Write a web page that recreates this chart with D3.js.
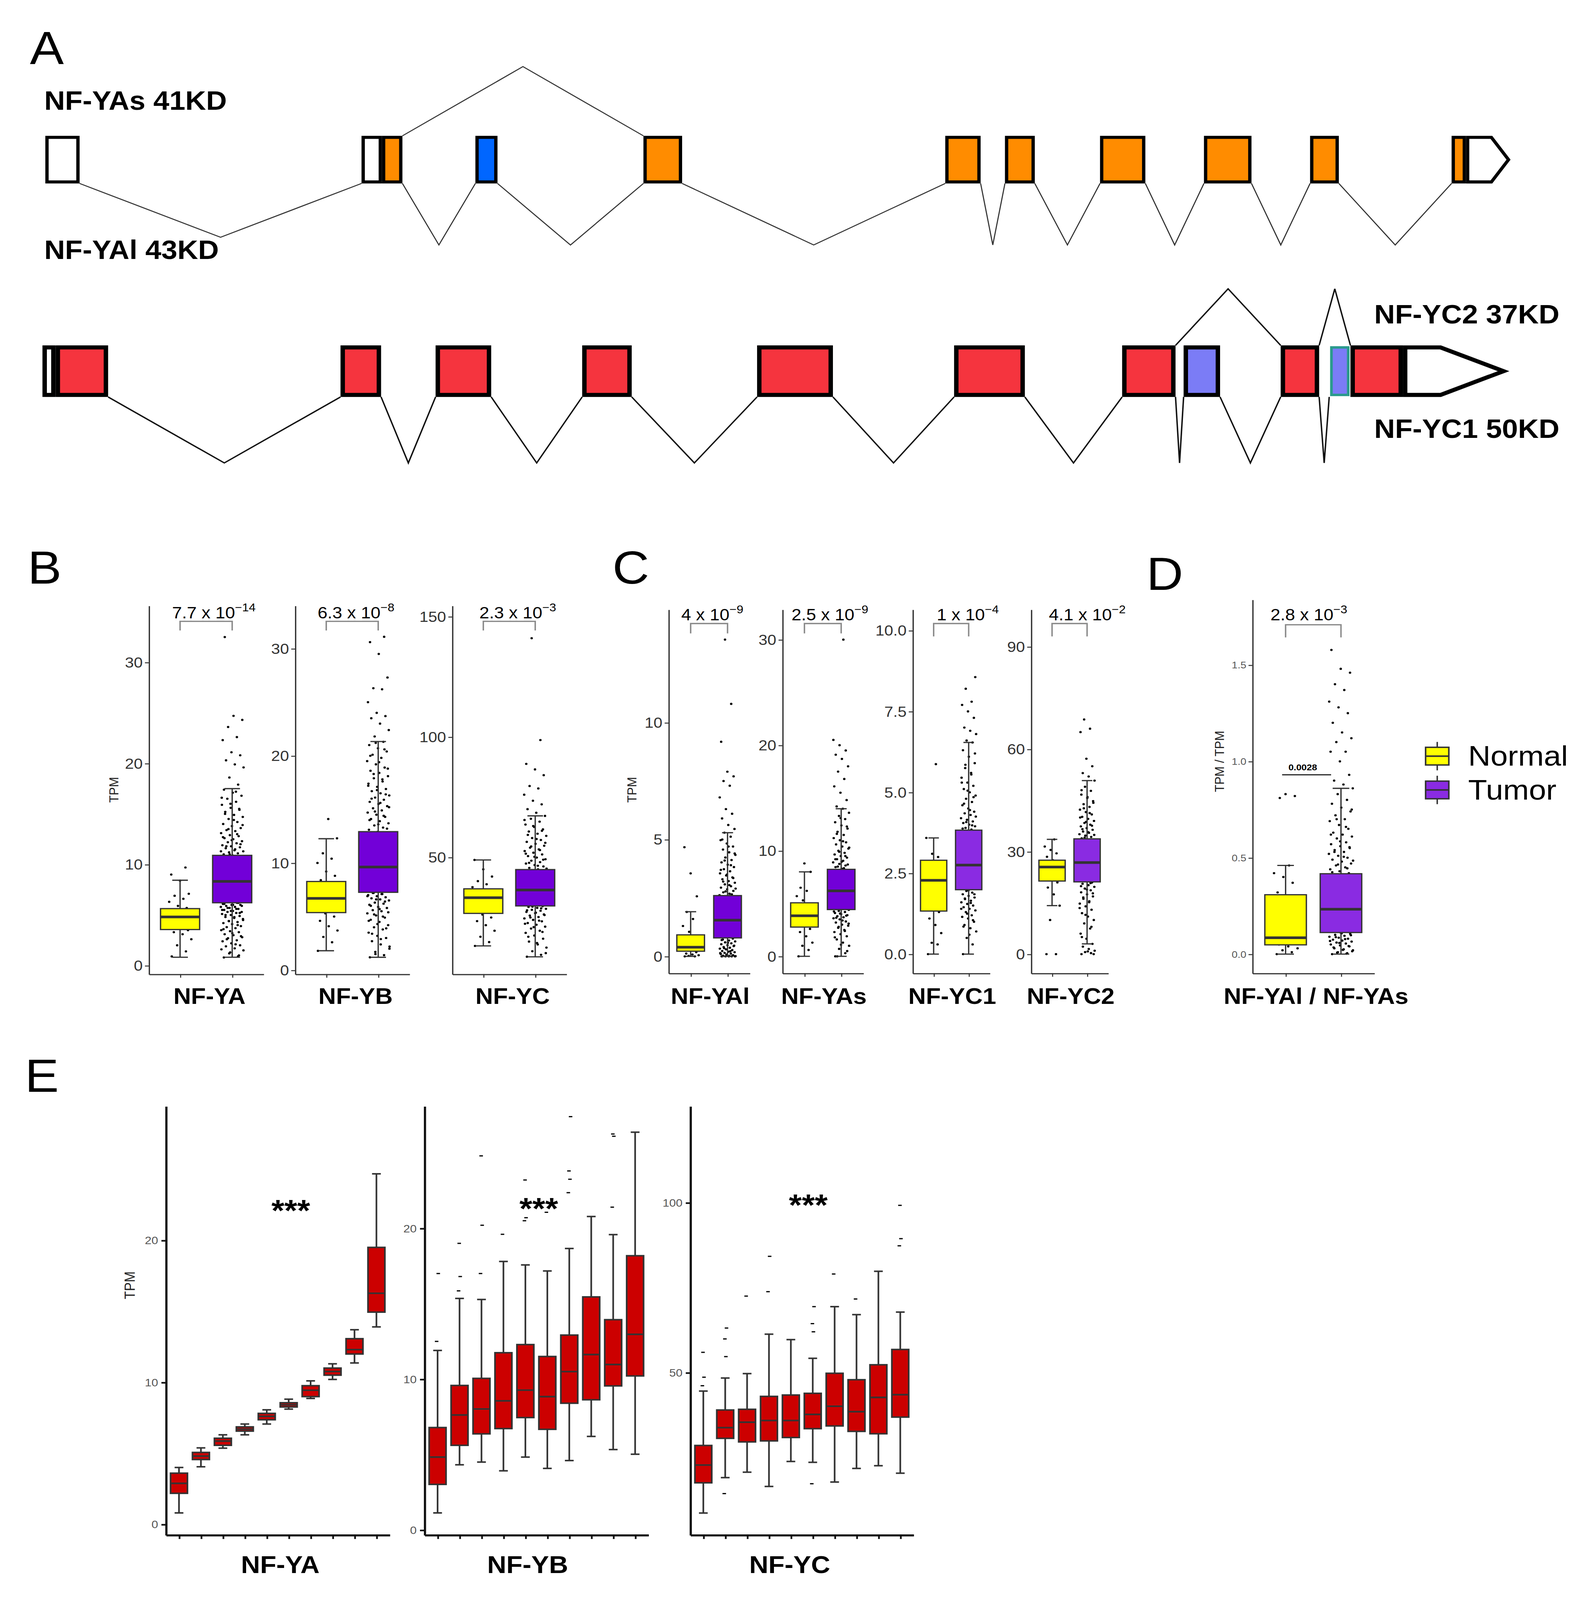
<!DOCTYPE html>
<html>
<head>
<meta charset="utf-8">
<script src="https://cdn.jsdelivr.net/npm/d3@7"></script>
<style>
  body { margin: 0; background: #fff; overflow: hidden; }
  svg { display: block; }
  text { font-family: "Liberation Sans", Arial, sans-serif; }
</style>
</head>
<body>
<svg id="fig"></svg>
<script>
// ---------- panel A: exon maps (start, end, kind[, shoulder]) ----------
var YA_EXONS = [[41,72,"utr"],[327,345.5,"utr"],[345.5,364,"cds"],[430,450,"alt"],[582,617,"cds"],
  [855,887,"cds"],[909,936,"cds"],[995,1036,"cds"],[1089,1132,"cds"],[1185,1211,"cds"],
  [1313,1326,"cds"],[1326,1366,"end",1349]];
var YA_SPLICE_LONG = [[0,1,53],[2,3,60.6],[3,4,60.6],[4,5,60.6],[5,6,60.6],[6,7,60.6],[7,8,60.6],[8,9,60.6],[9,10,60.6]];
var YA_SPLICE_SHORT = [[2,4,68.2]];
var YC_EXONS = [[38.4,50.3,"utr"],[50.3,97.8,"cds"],[308,344.7,"cds"],[394,444.3,"cds"],[526.6,571.4,"cds"],
  [684.8,753.4,"cds"],[863,927,"cds"],[1015,1063.3,"cds"],[1070.6,1103.6,"alt"],[1158.4,1193.2,"cds"],
  [1202.3,1221.5,"alt2"],[1221.5,1269,"cds"],[1269,1362,"end",1303]];
var YC_SPLICE_LONG = [[1,2,65],[2,3,65],[3,4,65],[4,5,65],[5,6,65],[6,7,65],[7,8,65],[8,9,65],[9,10,65]];
var YC_SPLICE_SHORT = [[7,9,55.7],[9,11,55.7]];
var ISOFORM_LABELS = ["NF-YAs 41KD","NF-YAl 43KD","NF-YC2 37KD","NF-YC1 50KD"];

// ---------- panel B ----------
var B_GENES = ["NF-YA","NF-YB","NF-YC"];
var B_YTICKS = [[0,10,20,30],[0,10,20,30],[50,100,150]];
var B_YDOMAIN = [[-0.85,35.6],[-0.37,34.0],[1.48,154.5]];
var B_P_MANT = ["7.7","6.3","2.3"];
var B_P_EXP = [-14,-8,-3];
// lo whisker, q1, median, q3, hi whisker
var B_NORMAL_STATS = [[0.82,3.56,4.81,5.63,8.44],[1.81,5.37,6.69,8.27,12.26],[13.2,26.7,33.2,36.9,48.9]];
var B_TUMOR_STATS = [[0.82,6.21,8.32,10.9,17.5],[1.2,7.26,9.62,12.92,21.33],[8.65,29.8,36.4,44.9,67.2]];
var B_NORMAL_PTS = [
  [0.9,1.4,2.0,2.6,3.1,3.3,3.5,3.8,4.2,4.5,4.7,4.9,5.1,5.4,5.7,5.9,6.3,6.6,6.9,7.1,8.4,9.0,9.7],
  [1.8,2.6,3.1,3.7,4.1,4.6,5.0,5.3,5.6,5.9,6.2,6.5,6.7,6.9,7.2,7.5,7.8,8.1,8.4,8.8,9.2,10.0,10.4,10.9,12.3,14.1],
  [13.2,14.8,17.0,19.5,21.8,23.5,25.0,26.2,27.5,29.0,30.5,31.8,33.0,34.2,35.4,36.5,37.6,38.8,40.1,42.0,45.0,48.9]
];
var B_TUMOR_PTS = [
  [0.8,0.9,1.2,1.5,1.7,1.9,2.0,2.2,2.4,2.5,2.7,2.8,3.0,3.1,3.3,3.4,3.5,3.7,3.8,3.9,4.1,4.2,4.3,4.4,4.6,4.7,4.8,4.9,5.0,5.1,5.2,5.3,5.3,5.4,5.5,5.6,5.7,5.8,5.8,5.9,6.0,6.0,6.1,6.2,
   6.5,7.0,7.4,7.9,8.3,8.7,9.2,9.8,10.3,10.8,
   10.9,11.0,11.1,11.2,11.3,11.4,11.6,11.7,11.8,11.9,12.1,12.2,12.3,12.5,12.6,12.8,12.9,13.1,13.3,13.4,13.6,13.8,14.0,14.2,14.5,14.7,14.9,15.2,15.4,15.6,15.9,16.2,16.5,16.8,17.1,17.4,
   17.9,18.6,19.6,19.9,20.3,20.8,21.1,22.3,22.6,23.6,24.3,24.7,32.5,
   1.0,1.3,1.6,2.1,2.6,2.9,3.2,3.6,4.0,4.4,4.5,4.8,5.0,5.2,5.4,5.5,5.6,5.7,5.9,6.0,6.1,6.2,
   11.0,11.3,11.5,11.8,12.0,12.4,12.7,13.0,13.5,13.9,14.4,15.0,15.5,16.0,16.6,17.2],
  [1.2,1.4,1.7,2.0,2.4,2.7,3.0,3.2,3.5,3.8,4.0,4.2,4.5,4.7,4.9,5.1,5.3,5.5,5.6,5.8,5.9,6.1,6.2,6.3,6.5,6.6,6.7,6.8,6.9,7.0,7.1,7.2,
   7.6,8.2,8.8,9.4,10.0,10.6,11.3,12.0,12.6,
   12.9,13.1,13.3,13.5,13.7,13.9,14.1,14.3,14.5,14.7,14.9,15.1,15.3,15.5,15.7,15.9,16.1,16.3,16.5,16.7,16.9,17.1,17.4,17.6,17.9,18.1,18.4,18.6,18.9,19.2,19.5,19.8,20.1,20.4,20.7,21.0,21.3,
   21.8,22.4,23.0,23.5,23.7,24.0,25.0,26.2,26.3,27.3,29.5,30.6,31.1,
   1.5,2.2,2.9,3.4,3.9,4.3,4.6,5.0,5.2,5.4,5.7,6.0,6.4,6.6,6.9,7.1,7.2,
   13.2,13.6,14.0,14.4,14.8,15.2,15.6,16.0,16.4,16.8,17.2,17.8,18.3,18.8,19.4,20.0,20.6,21.2],
  [8.7,9.5,11.0,12.5,13.8,15.0,16.2,17.5,18.6,19.5,20.4,21.2,22.0,22.7,23.4,24.0,24.6,25.2,25.8,26.3,26.8,27.3,27.8,28.2,28.6,29.0,29.4,29.7,
   30.5,32.0,33.5,35.0,36.5,38.0,39.5,41.0,42.5,44.0,
   45.0,45.6,46.2,46.8,47.4,48.0,48.6,49.2,49.9,50.5,51.2,51.9,52.6,53.3,54.0,54.8,55.6,56.4,57.2,58.0,58.9,59.8,60.7,61.6,62.6,63.6,64.8,66.0,67.2,
   68.5,70.0,72.0,73.5,76.0,78.6,79.6,84.1,86.5,88.8,98.7,141.0,
   10.2,14.4,17.0,19.0,21.0,22.4,23.7,25.0,26.0,27.0,28.0,28.8,29.5,
   45.3,46.5,47.7,49.0,50.2,51.5,53.0,54.5,56.0,57.6,59.3,61.0,63.0,65.5]
];

// ---------- panel C ----------
var C_GENES = ["NF-YAl","NF-YAs","NF-YC1","NF-YC2"];
var C_YTICKS = [[0,5,10],[0,10,20,30],[0,2.5,5,7.5,10],[0,30,60,90]];
var C_YDOMAIN = [[-0.72,14.84],[-1.6,32.86],[-0.59,10.65],[-5.58,100.9]];
var C_P_MANT = ["4","2.5","1","4.1"];
var C_P_EXP = [-9,-9,-4,-2];
var C_NORMAL_STATS = [[0,0.22,0.39,0.92,1.91],[0,2.77,3.84,5.07,8.0],[0,1.33,2.28,2.9,3.59],[14.2,21.4,25.5,27.5,33.6]];
var C_TUMOR_STATS = [[0,0.79,1.55,2.6,5.29],[0,4.43,6.2,8.24,13.98],[0,1.99,2.75,3.83,6.54],[3.0,21.15,26.8,33.75,50.8]];
var C_NORMAL_PTS = [
  [0,0,0.02,0.05,0.08,0.12,0.18,0.25,0.3,0.35,0.4,0.45,0.55,0.7,0.85,1.05,1.3,1.6,1.9,2.57,3.55,4.67],
  [0,0.6,1.0,1.3,1.9,2.3,2.6,2.9,3.2,3.5,3.8,4.1,4.4,4.7,5.0,5.3,5.7,6.2,6.5,8.0,8.8],
  [0,0.3,0.35,0.65,0.9,1.1,1.3,1.5,1.8,2.0,2.2,2.4,2.6,2.8,3.0,3.1,3.59,5.87],
  [0,0,10.0,14.2,17.5,19.5,21.0,22.5,23.5,24.5,25.5,26.5,27.5,28.5,29.5,30.5,31.5,33.6]
];
var C_TUMOR_PTS = [
  [0,0,0,0.01,0.02,0.03,0.05,0.07,0.1,0.12,0.15,0.18,0.2,0.23,0.27,0.3,0.33,0.37,0.4,0.44,0.48,0.52,0.56,0.6,0.64,0.68,0.72,0.76,
   0.9,1.1,1.3,1.5,1.7,1.9,2.1,2.3,2.5,
   2.62,2.68,2.74,2.8,2.87,2.94,3.0,3.08,3.15,3.22,3.3,3.38,3.46,3.55,3.64,3.73,3.82,3.92,4.02,4.12,4.23,4.34,4.45,4.57,4.7,4.83,4.97,5.12,5.29,
   5.45,5.62,5.9,6.1,6.3,6.8,7.3,7.5,7.7,7.9,9.18,10.8,13.55,
   0,0,0.01,0.04,0.08,0.14,0.22,0.35,0.46,0.58,0.7,
   2.65,2.78,2.9,3.05,3.2,3.35,3.5,3.7,3.9,4.1,4.4,4.7,5.0],
  [0,0.3,0.7,1.0,1.3,1.6,1.9,2.1,2.3,2.5,2.7,2.9,3.0,3.2,3.3,3.5,3.6,3.7,3.8,3.9,4.0,4.1,4.2,4.3,4.4,
   4.7,5.2,5.7,6.2,6.7,7.2,7.7,8.1,
   8.3,8.45,8.6,8.75,8.9,9.05,9.2,9.35,9.5,9.65,9.8,10.0,10.2,10.4,10.6,10.8,11.0,11.2,11.5,11.8,12.1,12.4,12.7,13.0,13.3,13.6,13.98,
   14.2,14.8,15.5,16.1,16.8,17.5,18.0,18.7,19.1,19.5,20.0,20.5,30.0,
   0,0.5,1.1,1.8,2.4,2.8,3.1,3.4,3.65,3.85,4.05,4.25,
   8.35,8.5,8.7,8.95,9.2,9.5,9.9,10.3,10.9,11.6,12.3,13.1],
  [0,0.3,0.5,0.7,0.8,0.9,1.0,1.1,1.15,1.2,1.3,1.35,1.4,1.45,1.5,1.55,1.6,1.65,1.7,1.75,1.8,1.85,1.9,1.95,
   2.1,2.4,2.7,3.0,3.3,3.6,
   3.85,3.9,3.95,4.0,4.05,4.1,4.15,4.2,4.3,4.35,4.4,4.5,4.6,4.7,4.8,4.9,5.0,5.1,5.2,5.3,5.45,5.6,5.75,5.9,6.1,6.3,6.54,
   6.6,6.8,6.9,7.0,7.3,7.5,7.7,7.8,8.2,8.56,
   0.6,0.85,1.05,1.25,1.4,1.58,1.72,1.85,1.97,
   3.88,3.98,4.08,4.25,4.45,4.65,4.85,5.05,5.3,5.55,5.85,6.2],
  [0,0.3,0.6,1.0,1.5,2.2,3.0,4.5,6,7.5,9,10,11,12,13,14,14.8,15.5,16.2,16.9,17.5,18.1,18.7,19.2,19.7,20.2,20.6,21.0,
   22.5,24.5,26.5,28.5,30.5,32.5,
   33.9,34.3,34.7,35.1,35.5,35.9,36.4,36.9,37.4,37.9,38.4,39.0,39.6,40.2,40.9,41.6,42.3,43.1,43.9,44.8,45.7,46.7,47.8,49.0,50.8,
   52.0,53.0,55.0,57.2,65.0,66.0,68.7,
   0,0.8,5,8,11.5,13.5,15.2,16.6,17.8,18.9,19.9,20.8,
   34.1,34.9,35.7,36.6,37.6,38.7,40.0,41.3,42.7,44.3,46.0,48.0]
];

// ---------- panel D ----------
var D_LABEL = "NF-YAl / NF-YAs";
var D_YTICKS = [0,0.5,1,1.5];
var D_YDOMAIN = [-0.099,1.839];
var D_P_MANT = "2.8";
var D_P_EXP = -3;
var D_P_TEXT = "0.0028";
var D_NORMAL_STATS = [0,0.048,0.085,0.308,0.46];
var D_TUMOR_STATS = [0,0.112,0.233,0.417,0.86];
var D_NORMAL_PTS = [0,0.01,0.02,0.03,0.04,0.05,0.06,0.08,0.1,0.13,0.17,0.22,0.27,0.32,0.37,0.4,0.42,0.46,0.81,0.82,0.83];
var D_TUMOR_PTS = [0,0.005,0.01,0.02,0.025,0.03,0.04,0.045,0.05,0.055,0.06,0.065,0.07,0.075,0.08,0.085,0.09,0.095,0.1,0.105,0.11,
  0.15,0.2,0.25,0.3,0.35,0.4,
  0.42,0.43,0.44,0.45,0.46,0.47,0.48,0.49,0.5,0.51,0.52,0.53,0.54,0.55,0.56,0.57,0.58,0.6,0.61,0.62,0.63,0.65,0.67,0.69,0.7,0.72,0.74,0.76,0.78,0.8,0.83,0.86,
  0.88,0.9,0.93,1.0,1.05,1.05,1.1,1.12,1.15,1.2,1.25,1.28,1.31,1.37,1.4,1.46,1.48,1.578,
  0.002,0.008,0.015,0.022,0.035,0.042,0.058,0.068,0.078,0.088,0.098,0.108,
  0.425,0.445,0.465,0.485,0.505,0.53,0.555,0.585,0.62,0.66,0.7,0.75];
var GROUPS = ["Normal","Tumor"];

// ---------- panel E ----------
var E_GENES = ["NF-YA","NF-YB","NF-YC"];
var E_BINS = ["1","2","3","4","5","6","7","8","9","10"];
var E_YTICKS = [[0,10,20],[0,10,20],[50,100]];
var E_YDOMAIN = [[-0.75,29.45],[-0.33,28.1],[2.24,128.4]];
var E_STATS = [
  [[0.8,2.18,2.88,3.6,4.0],[4.05,4.56,4.8,5.06,5.38],[5.36,5.56,5.86,6.06,6.3],[6.3,6.56,6.7,6.86,7.06],[7.06,7.36,7.6,7.81,8.06],
   [8.11,8.26,8.41,8.56,8.81],[8.86,8.99,9.44,9.76,10.1],[10.2,10.5,10.76,11.0,11.3],[11.36,11.99,12.3,13.07,13.7],[13.9,14.94,16.27,19.5,24.68]],
  [[1.13,3.02,4.83,6.79,11.9],[4.32,5.61,7.62,9.58,15.35],[4.5,6.37,8.02,10.05,15.28],[3.92,6.72,8.56,11.75,17.8],[4.83,7.45,9.27,12.29,17.57],
   [4.08,6.67,8.84,11.5,17.17],[4.6,8.4,10.5,12.92,18.66],[6.2,8.63,11.63,15.45,20.78],[5.33,9.55,10.97,13.94,19.58],[5.02,10.21,12.97,18.18,26.37]],
  [[8.68,17.57,22.8,28.56,44.56],[19.1,30.65,33.8,39.0,48.4],[20.7,29.6,35.4,39.2,49.7],[16.5,29.9,35.9,43.0,61.3],[23.85,30.9,35.9,43.4,59.7],
   [23.6,33.5,37.7,43.9,54.2],[17.8,34.3,40.1,49.8,69.4],[21.8,32.7,38.5,47.9,67.05],[22.6,32.0,42.7,52.3,79.8],[20.4,36.9,43.5,56.8,67.8]]
];
var E_OUTLIERS = [
  [[],[],[],[],[],[],[],[],[],[]],
  [[12.5,17.0],[15.85,16.8,19.0],[17.0,20.2,24.8],[19.6],[20.5,20.7,23.2],[21.06],[22.36,23.25,23.8,27.4],[],[21.4,26.1,26.25],[]],
  [[46.13,48.64,55.96],[14.4,54.7,59.9,63.1],[72.5],[73.8,84.2],[],[17.3,62.0,64.4,69.4],[79.0],[71.65],[],[87.3,89.4,99.2]]
];

// ---------- drawing ----------
// the figure is laid out on a 1440 x 1576 grid and stretched to the window
var W = 1440, H = 1576;
var outW = window.innerWidth || 4075, outH = Math.min(window.innerHeight || 4460, 4460);
var svg = d3.select("#fig").attr("width", outW).attr("height", outH)
  .attr("viewBox", "0 0 " + W + " " + H).attr("preserveAspectRatio", "none");
svg.append("rect").attr("width", W).attr("height", H).attr("fill", "#fff");

function panelLetter(t, x, y) {
  svg.append("text").attr("x", x).attr("y", y).attr("font-size", 46).text(t);
}

// gene structure row
function geneRow(exons, longSp, shortSp, row) {
  var gx = d3.scaleLinear().domain([0, W]).range([0, W]);
  var g = svg.append("g");
  longSp.forEach(function (s) {
    var x1 = gx(exons[s[0]][1]), x2 = gx(exons[s[1]][0]);
    g.append("path").attr("d", "M" + x1 + "," + row.bot + "L" + (x1 + x2) / 2 + "," + (row.bot + s[2]) + "L" + x2 + "," + row.bot)
      .attr("fill", "none").attr("stroke", row.lineColor).attr("stroke-width", row.lineW);
  });
  shortSp.forEach(function (s) {
    var x1 = gx(exons[s[0]][1]), x2 = gx(exons[s[1]][0]);
    g.append("path").attr("d", "M" + x1 + "," + row.top + "L" + (x1 + x2) / 2 + "," + (row.top - s[2]) + "L" + x2 + "," + row.top)
      .attr("fill", "none").attr("stroke", row.lineColor).attr("stroke-width", row.lineW);
  });
  var h = row.sw / 2;
  exons.forEach(function (e) {
    var x0 = gx(e[0]) + h, x1 = gx(e[1]) - h, y0 = row.top + h, y1 = row.bot - h;
    if (e[2] === "end") {
      var sh = gx(e[3]);
      g.append("path").attr("d", "M" + x0 + "," + y0 + "L" + sh + "," + y0 + "L" + x1 + "," + (y0 + y1) / 2 + "L" + sh + "," + y1 + "L" + x0 + "," + y1 + "Z")
        .attr("fill", "#fff").attr("stroke", "#000").attr("stroke-width", row.sw).attr("stroke-linejoin", "miter");
    } else {
      g.append("rect").attr("x", x0).attr("y", y0).attr("width", x1 - x0).attr("height", y1 - y0)
        .attr("fill", row.fill[e[2]])
        .attr("stroke", e[2] === "alt2" ? "#2a9a8c" : "#000")
        .attr("stroke-width", e[2] === "alt2" ? row.sw * 0.6 : row.sw);
    }
  });
}

function isoLabel(t, x, y) {
  svg.append("text").attr("x", x).attr("y", y).attr("font-size", 26).attr("font-weight", "bold").text(t);
}

panelLetter("A", 27, 63);
geneRow(YA_EXONS, YA_SPLICE_LONG, YA_SPLICE_SHORT,
  { top: 133.8, bot: 180.7, sw: 3, lineW: 1, lineColor: "#333",
    fill: { utr: "#fff", cds: "#FF8C00", alt: "#0066FF" } });
geneRow(YC_EXONS, YC_SPLICE_LONG, YC_SPLICE_SHORT,
  { top: 340.2, bot: 391, sw: 4, lineW: 1.3, lineColor: "#111",
    fill: { utr: "#fff", cds: "#F5343E", alt: "#7B7CF6", alt2: "#7B7CF6" } });
isoLabel(ISOFORM_LABELS[0], 40, 108);
isoLabel(ISOFORM_LABELS[1], 40, 255);
isoLabel(ISOFORM_LABELS[2], 1243, 318.5);
isoLabel(ISOFORM_LABELS[3], 1243, 431.5);

// pseudo-jitter (evenly spread offsets, deterministic)
function jit(j) { return ((j * 0.6180339887 + 0.137) % 1) * 2 - 1; }

function boxPlot(c) {
  var g = svg.append("g");
  var x = d3.scalePoint().domain(c.cats).range([c.left, c.right]).padding(0.6);
  var y = d3.scaleLinear().domain(c.domain).range([c.bottom, c.top]);
  var step = x.step();
  var ya = g.append("g").attr("transform", "translate(" + c.left + ",0)")
    .call(d3.axisLeft(y).tickValues(c.ticks).tickFormat(c.fmt).tickSizeInner(c.tick).tickSizeOuter(0).tickPadding(c.pad));
  g.append("g").attr("transform", "translate(0," + c.bottom + ")")
    .call(d3.axisBottom(x).tickFormat(function () { return ""; }).tickSizeInner(c.tick).tickSizeOuter(0));
  g.selectAll(".domain").attr("stroke", c.axisColor).attr("stroke-width", c.axisW);
  g.selectAll(".tick line").attr("stroke", c.axisColor).attr("stroke-width", c.axisW * 0.8);
  ya.selectAll(".tick text").attr("font-size", c.tickFont).attr("fill", c.tickColor).attr("font-family", c.tickFamily);

  c.cats.forEach(function (cat, i) {
    var cx = x(cat);
    var pts = c.points[i];
    if (c.dash) {
      g.selectAll(null).data(pts).join("rect")
        .attr("x", function (d, j) { return cx + jit(j) * c.jitter * step - 1.6; })
        .attr("y", function (d) { return y(d) - 0.6; })
        .attr("width", 3.2).attr("height", 1.2).attr("fill", "#000");
    } else {
      g.selectAll(null).data(pts).join("circle")
        .attr("cx", function (d, j) { return cx + jit(j) * c.jitter * step; })
        .attr("cy", function (d) { return y(d); })
        .attr("r", c.r).attr("fill", "#000");
    }
    var s = c.stats[i];
    var bw = c.boxW * step, cw = c.capW * step;
    g.append("line").attr("x1", cx).attr("x2", cx).attr("y1", y(s[0])).attr("y2", y(s[4]))
      .attr("stroke", "#333").attr("stroke-width", c.lineW);
    [s[0], s[4]].forEach(function (v) {
      g.append("line").attr("x1", cx - cw / 2).attr("x2", cx + cw / 2).attr("y1", y(v)).attr("y2", y(v))
        .attr("stroke", "#333").attr("stroke-width", c.lineW);
    });
    g.append("rect").attr("x", cx - bw / 2).attr("y", y(s[3])).attr("width", bw).attr("height", y(s[1]) - y(s[3]))
      .attr("fill", c.fills[i]).attr("stroke", "#333").attr("stroke-width", c.lineW);
    g.append("line").attr("x1", cx - bw / 2).attr("x2", cx + bw / 2).attr("y1", y(s[2])).attr("y2", y(s[2]))
      .attr("stroke", "#333").attr("stroke-width", c.medW);
  });

  if (c.label) {
    g.append("text").attr("x", (c.left + c.right) / 2 + (c.labelDx || 0)).attr("y", c.labelY)
      .attr("text-anchor", "middle").attr("font-size", c.labelFont).attr("font-weight", "bold").text(c.label);
  }
  if (c.pMant) {
    var xa1 = x(c.cats[0]), xb1 = x(c.cats[1]);
    g.append("path").attr("d", "M" + xa1 + "," + c.pDrop + "V" + c.pLine + "H" + xb1 + "V" + c.pDrop)
      .attr("fill", "none").attr("stroke", "#8a8a8a").attr("stroke-width", 1.3);
    var t = g.append("text").attr("y", c.pBase).attr("font-size", 16).attr("fill", "#000");
    t.append("tspan").text(c.pMant + " x 10");
    t.append("tspan").attr("dy", -7).attr("font-size", 11).text("\u2212" + Math.abs(c.pExp));
    var w = t.node().getComputedTextLength();
    t.attr("x", (xa1 + xb1) / 2 + c.pDx - w / 2);
  }
  return { x: x, y: y, g: g };
}

function yTitle(t, x, y, size) {
  svg.append("text").attr("transform", "translate(" + x + "," + y + ") rotate(-90)")
    .attr("text-anchor", "middle").attr("font-size", size).attr("fill", "#222").text(t);
}

var fmtInt = d3.format("d"), fmt1 = d3.format(".1f");
var PURPLE = "#7200D8", VIOLET = "#8A2BE2", YELLOW = "#FFFF00";
var baseBCD = { tick: 3.5, pad: 2, axisColor: "#333", axisW: 1.2, tickFont: 14.5, tickColor: "#333",
  tickFamily: "'Liberation Sans', Arial, sans-serif", boxW: 0.75, capW: 0.3, jitter: 0.22, r: 1.1,
  lineW: 1.2, medW: 2.6, labelFont: 22, labelY: 989, cats: GROUPS };

// panel B
panelLetter("B", 25, 575);
var B_LAYOUT = [[134.6, 238.3, 7, 3], [266.9, 370.3, 3.4, 3], [409, 512.3, 7.7, 3]];
B_GENES.forEach(function (gname, i) {
  boxPlot(Object.assign({}, baseBCD, {
    left: B_LAYOUT[i][0], right: B_LAYOUT[i][1], top: 596.6, bottom: 959.5,
    domain: B_YDOMAIN[i], ticks: B_YTICKS[i], fmt: fmtInt,
    stats: [B_NORMAL_STATS[i], B_TUMOR_STATS[i]], points: [B_NORMAL_PTS[i], B_TUMOR_PTS[i]],
    fills: [YELLOW, PURPLE], label: gname, labelDx: B_LAYOUT[i][3],
    pMant: B_P_MANT[i], pExp: B_P_EXP[i], pDx: B_LAYOUT[i][2], pLine: 612, pDrop: 621, pBase: 609
  }));
});
yTitle("TPM", 107, 778, 12);

// panel C
panelLetter("C", 554, 575);
var C_LAYOUT = [[604.7, 678.1, 2.9, 623.9], [707.7, 780.8, 6.4, 623.9], [825.5, 895.2, 15, 626.9], [932.6, 1002.3, 16, 626.9]];
var C_FILLS = [PURPLE, PURPLE, VIOLET, VIOLET];
C_GENES.forEach(function (gname, i) {
  boxPlot(Object.assign({}, baseBCD, {
    left: C_LAYOUT[i][0], right: C_LAYOUT[i][1], top: 600.3, bottom: 958.6,
    domain: C_YDOMAIN[i], ticks: C_YTICKS[i], fmt: i === 2 ? fmt1 : fmtInt,
    stats: [C_NORMAL_STATS[i], C_TUMOR_STATS[i]], points: [C_NORMAL_PTS[i], C_TUMOR_PTS[i]],
    fills: [YELLOW, C_FILLS[i]], label: gname, labelDx: 1,
    pMant: C_P_MANT[i], pExp: C_P_EXP[i], pDx: C_LAYOUT[i][2], pLine: 614.2, pDrop: C_LAYOUT[i][3], pBase: 611
  }));
});
yTitle("TPM", 575.5, 778, 12);

// panel D
panelLetter("D", 1037, 581);
var dPlot = boxPlot(Object.assign({}, baseBCD, {
  left: 1132.8, right: 1243, top: 590.6, bottom: 958.6,
  domain: D_YDOMAIN, ticks: D_YTICKS, fmt: fmt1, tickFont: 9.5, tickColor: "#555",
  stats: [D_NORMAL_STATS, D_TUMOR_STATS], points: [D_NORMAL_PTS, D_TUMOR_PTS],
  fills: [YELLOW, VIOLET], label: D_LABEL, labelDx: 2.5,
  pMant: D_P_MANT, pExp: D_P_EXP, pDx: -4, pLine: 615.4, pDrop: 627.8, pBase: 611
}));
dPlot.g.append("line").attr("x1", 1159.7).attr("x2", 1204).attr("y1", 763.2).attr("y2", 763.2)
  .attr("stroke", "#000").attr("stroke-width", 1);
dPlot.g.append("text").attr("x", 1178.4).attr("y", 758.7).attr("text-anchor", "middle")
  .attr("font-size", 8.5).attr("font-weight", "bold").text(D_P_TEXT);
yTitle("TPM / TPM", 1107, 750, 12);

// legend
var LEGEND_FILLS = [YELLOW, VIOLET];
var leg = svg.append("g");
GROUPS.forEach(function (name, i) {
  var cy = 744.8 + i * 33.3;
  leg.append("line").attr("x1", 1300).attr("x2", 1300).attr("y1", cy - 14).attr("y2", cy + 14)
    .attr("stroke", "#333").attr("stroke-width", 1.3);
  leg.append("rect").attr("x", 1289.5).attr("y", cy - 8.7).attr("width", 21).attr("height", 17.4)
    .attr("fill", LEGEND_FILLS[i]).attr("stroke", "#333").attr("stroke-width", 1.4);
  leg.append("line").attr("x1", 1289.5).attr("x2", 1310.5).attr("y1", cy).attr("y2", cy)
    .attr("stroke", "#333").attr("stroke-width", 1.5);
  leg.append("text").attr("x", 1328).attr("y", cy + 9.5).attr("font-size", 28).text(name);
});

// panel E
panelLetter("E", 22.5, 1075.5);
var E_LAYOUT = [[150, 352.4, 253.5, 263, 1202.7], [383.9, 586.4, 477.3, 487.3, 1201], [624.3, 826.2, 714.3, 731.1, 1197.5]];
E_GENES.forEach(function (gname, i) {
  var p = boxPlot({
    tick: 4, pad: 3, axisColor: "#111", axisW: 2, tickFont: 10.8, tickColor: "#555",
    tickFamily: "'DejaVu Sans', Verdana, sans-serif", boxW: 0.77, capW: 0.4, jitter: 0.06, r: 0.8,
    lineW: 1.5, medW: 1.6, dash: true,
    cats: E_BINS, left: E_LAYOUT[i][0], right: E_LAYOUT[i][1], top: 1089.5, bottom: 1511.9,
    domain: E_YDOMAIN[i], ticks: E_YTICKS[i], fmt: fmtInt,
    stats: E_STATS[i], points: E_OUTLIERS[i], fills: E_BINS.map(function () { return "#CC0000"; })
  });
  p.g.append("text").attr("x", E_LAYOUT[i][2]).attr("y", 1549.5).attr("text-anchor", "middle")
    .attr("font-size", 24).attr("font-weight", "bold").text(gname);
  p.g.append("text").attr("x", E_LAYOUT[i][3]).attr("y", E_LAYOUT[i][4]).attr("text-anchor", "middle")
    .attr("font-size", 30).attr("font-weight", "bold").text("***");
});
yTitle("TPM", 122, 1266, 13);
</script>
</body>
</html>
